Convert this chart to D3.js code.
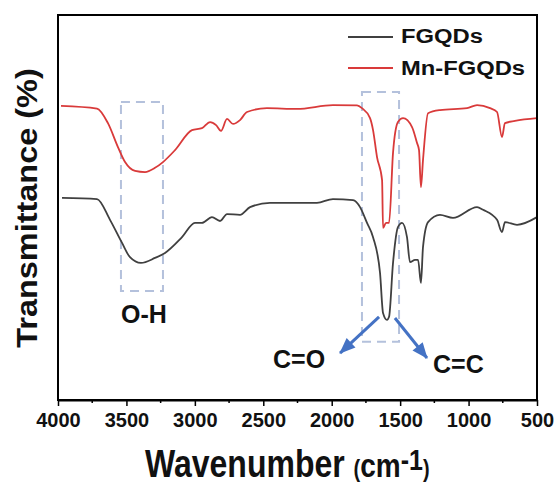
<!DOCTYPE html>
<html>
<head>
<meta charset="utf-8">
<script src="https://cdn.jsdelivr.net/npm/d3@7"></script>
<style>
  body { margin: 0; background: #fff; }
  svg { display: block; font-family: Arial, "Liberation Sans", sans-serif; }
</style>
</head>
<body>
<svg id="chart" width="558" height="490"></svg>
<script>
// FT-IR spectra, [wavenumber cm-1, transmittance (arb.)]
const fgqds = [
  [3971, 52.5], [3715, 52.2], [3620, 46.8], [3532, 40.8], [3474, 37.1], [3394, 35.6],
  [3291, 36.9], [3218, 38.2], [3094, 42.3], [2999, 46.0], [2948, 46.0], [2875, 47.5],
  [2816, 46.5], [2765, 48.3], [2670, 48.1], [2597, 50.1], [2451, 51.2], [2108, 51.2],
  [1991, 52.2], [1844, 51.9], [1793, 50.1], [1742, 46.0], [1698, 42.3], [1647, 33.0],
  [1625, 22.6], [1596, 20.8], [1581, 21.6], [1552, 35.6], [1516, 44.9], [1486, 46.0],
  [1450, 42.3], [1428, 35.8], [1391, 36.4], [1369, 36.4], [1348, 30.4], [1333, 39.7],
  [1296, 46.2], [1209, 48.1], [1114, 47.3], [938, 50.1], [894, 49.4], [792, 46.8],
  [756, 43.6], [734, 46.2], [646, 45.5], [500, 47.5]
];
const mnFgqds = [
  [3978, 76.4], [3715, 75.7], [3635, 71.9], [3562, 65.7], [3510, 61.8], [3437, 59.5],
  [3364, 59.2], [3291, 60.3], [3233, 61.8], [3145, 64.9], [3021, 70.1], [2948, 70.6],
  [2889, 72.2], [2845, 71.4], [2809, 69.9], [2765, 73.0], [2721, 71.7], [2670, 72.7],
  [2619, 74.8], [2473, 75.8], [2254, 75.6], [1991, 76.6], [1815, 76.5], [1779, 75.8],
  [1720, 73.2], [1698, 70.1], [1669, 63.1], [1632, 57.1], [1625, 44.7], [1603, 46.0],
  [1581, 46.0], [1552, 64.2], [1516, 72.2], [1479, 73.2], [1413, 70.9], [1377, 66.8],
  [1362, 64.9], [1348, 55.3], [1333, 62.3], [1296, 74.5], [1209, 75.3], [1011, 75.8],
  [938, 76.6], [843, 75.8], [792, 74.8], [756, 68.3], [734, 71.9], [661, 72.5], [500, 73.2]
];

const seriesNames = ['FGQDs', 'Mn-FGQDs'];
const seriesColors = ['#404040', '#d93a3a'];
const xTicks = [4000, 3500, 3000, 2500, 2000, 1500, 1000, 500];
const xMinorTicks = [3750, 3250, 2750, 2250, 1750, 1250, 750];

// dashed highlight boxes [w1, w2, tTop, tBottom]
const boxes = [
  [3540, 3233, 77.4, 28.3],
  [1779, 1508, 80.0, 15.1]
];
// arrows [wFrom, tFrom, wTo, tTo]
const arrows = [
  [1654, 21.6, 1939, 12.2],
  [1538, 21.3, 1304, 10.9]
];
// band labels [text, w, t]
const bandLabels = [
  ['O-H', 3540, 20.0],
  ['C=O', 2429, 8.3],
  ['C=C', 1260, 7.0]
];

const svg = d3.select('#chart');
const margin = { left: 58, top: 15, right: 21, bottom: 90 };
const width = 558 - margin.left - margin.right;
const height = 490 - margin.top - margin.bottom;

const x = d3.scaleLinear().domain([4000, 500]).range([margin.left, margin.left + width]);
const y = d3.scaleLinear().domain([0, 100]).range([margin.top + height, margin.top]);

const defs = svg.append('defs');
defs.append('marker')
    .attr('id', 'arrowhead')
    .attr('markerUnits', 'userSpaceOnUse')
    .attr('markerWidth', 18).attr('markerHeight', 16)
    .attr('viewBox', '0 -8 16 16')
    .attr('refX', 15).attr('refY', 0)
    .attr('orient', 'auto')
  .append('path')
    .attr('d', 'M0,-6.5L16,0L0,6.5Z')
    .attr('fill', '#4472c4');

// dashed boxes (behind the curves)
svg.append('g').selectAll('rect')
    .data(boxes)
    .join('rect')
    .attr('x', d => x(d[0]))
    .attr('y', d => y(d[2]))
    .attr('width', d => x(d[1]) - x(d[0]))
    .attr('height', d => y(d[3]) - y(d[2]))
    .attr('fill', 'none')
    .attr('stroke', '#b4c1dc')
    .attr('stroke-width', 2)
    .attr('stroke-dasharray', '9,6');

// spectra
const line = d3.line().x(d => x(d[0])).y(d => y(d[1])).curve(d3.curveMonotoneX);
svg.append('g').selectAll('path')
    .data([fgqds, mnFgqds])
    .join('path')
    .attr('d', line)
    .attr('fill', 'none')
    .attr('stroke', (d, i) => seriesColors[i])
    .attr('stroke-width', 1.8)
    .attr('stroke-linejoin', 'round');

// arrows
svg.append('g').selectAll('line')
    .data(arrows)
    .join('line')
    .attr('x1', d => x(d[0])).attr('y1', d => y(d[1]))
    .attr('x2', d => x(d[2])).attr('y2', d => y(d[3]))
    .attr('stroke', '#4472c4')
    .attr('stroke-width', 3)
    .attr('marker-end', 'url(#arrowhead)');

svg.append('g').selectAll('text')
    .data(bandLabels)
    .join('text')
    .attr('x', d => x(d[1]))
    .attr('y', d => y(d[2]))
    .attr('font-size', 25)
    .attr('font-weight', 'bold')
    .attr('fill', '#111')
    .text(d => d[0]);

// frame
svg.append('rect')
    .attr('x', margin.left).attr('y', margin.top)
    .attr('width', width).attr('height', height)
    .attr('fill', 'none')
    .attr('stroke', '#000')
    .attr('stroke-width', 2);

// x axis
const xAxis = svg.append('g')
    .attr('transform', `translate(0,${margin.top + height})`)
    .call(d3.axisBottom(x).tickValues(xTicks).tickSize(6).tickSizeOuter(0).tickPadding(7)
        .tickFormat(d3.format('d')));
xAxis.select('.domain').attr('stroke-width', 2);
xAxis.selectAll('.tick line').attr('stroke-width', 1.5);
xAxis.selectAll('.tick text')
    .attr('font-size', 20)
    .attr('font-weight', 'bold')
    .attr('font-family', 'Arial, "Liberation Sans", sans-serif')
    .attr('fill', '#111');

svg.append('g')
    .attr('transform', `translate(0,${margin.top + height})`)
    .selectAll('line')
    .data(xMinorTicks)
    .join('line')
    .attr('x1', d => x(d)).attr('x2', d => x(d))
    .attr('y1', 0).attr('y2', 3)
    .attr('stroke', '#000')
    .attr('stroke-width', 1.5);

// axis titles
const xTitle = svg.append('text')
    .attr('transform', 'translate(145,477) scale(1,1.2)')
    .attr('font-weight', 'bold')
    .attr('fill', '#111');
xTitle.append('tspan').attr('font-size', 32).text('Wavenumber ');
xTitle.append('tspan').attr('font-size', 20).text('(');
xTitle.append('tspan').attr('font-size', 28).text('cm');
xTitle.append('tspan').attr('font-size', 25).attr('dy', -6).text('-1');
xTitle.append('tspan').attr('font-size', 20).attr('dy', 6).text(')');

svg.append('text')
    .attr('transform', 'translate(37,208) scale(1,1.12) rotate(-90)')
    .attr('text-anchor', 'middle')
    .attr('font-size', 29)
    .attr('font-weight', 'bold')
    .attr('fill', '#111')
    .text('Transmittance (%)');

// legend
const legend = svg.append('g');
const legendY = [37, 68];
const legendLen = [82, 124];
seriesNames.forEach((name, i) => {
    legend.append('line')
        .attr('x1', 348).attr('x2', 393)
        .attr('y1', legendY[i]).attr('y2', legendY[i])
        .attr('stroke', seriesColors[i])
        .attr('stroke-width', 1.8);
    legend.append('text')
        .attr('x', 401).attr('y', legendY[i] + 6 - (i ? -1 : 0))
        .attr('font-size', 20)
        .attr('font-weight', 'bold')
        .attr('fill', '#111')
        .attr('textLength', legendLen[i])
        .attr('lengthAdjust', 'spacingAndGlyphs')
        .text(name);
});
</script>
</body>
</html>
